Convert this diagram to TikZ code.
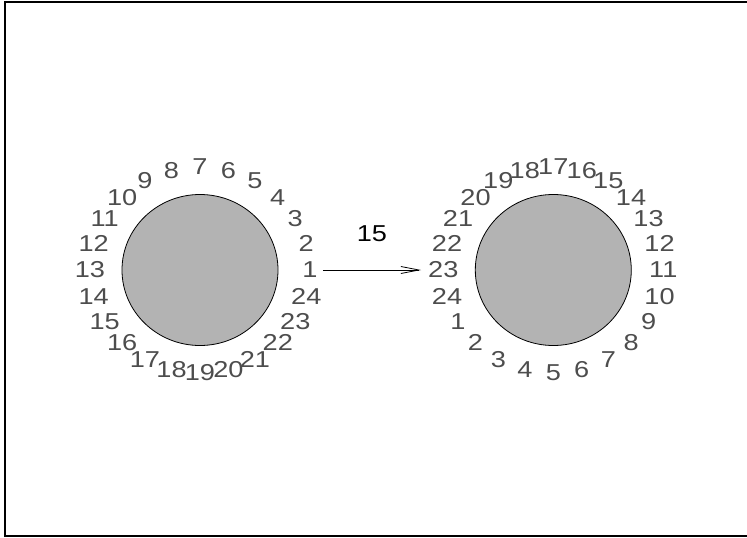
\documentclass[tikz,border=0pt]{standalone}
\usepackage{fontspec}
\setmainfont[FakeStretch=1.18]{Liberation Sans}
\usepackage{xcolor}
\usepackage{tikz}
\usetikzlibrary{arrows.meta, positioning, calc, shapes.geometric}
\definecolor{isi}{HTML}{B3B3B3}
\definecolor{abu}{HTML}{4D4D4D}

\begin{document}
\begin{tikzpicture}[
    x=1pt, y=-1pt,
    cakram/.style={draw, ellipse, fill=isi, line width=0.8pt,
                   minimum width=156pt, minimum height=151pt, inner sep=0pt},
    angka/.style={text=abu, inner sep=1pt, font=\fontsize{23}{27}\selectfont},
    judul/.style={text=black, inner sep=1pt, font=\fontsize{23}{27}\selectfont},
    panah/.style={-{Straight Barb[length=18pt, width=7pt]}, line width=0.8pt}
  ]
    \useasboundingbox (0,0) rectangle (747,538);
    \draw[line width=2pt] (747,2) -- (5,2) -- (5,536) -- (747,536);
    \node[cakram] (kiri) at (200,270) {};
    \node[cakram] (kanan) at (553.3,270) {};
    \foreach \k in {1,...,24}{
      \node[angka] (l\k) at ({200+110*cos((\k-1)*15)},{270-103*sin((\k-1)*15)}) {\k};
      \node[angka] (r\k) at ({553.3+110*cos((\k-1)*15+210)},{270-103*sin((\k-1)*15+210)}) {\k};
    }
    \node[judul] (jumlah) at (372,234) {15};
    \draw[panah, shorten <=4pt, shorten >=6pt] (l1.east) -- (r23.west);
  \end{tikzpicture}
\end{document}
